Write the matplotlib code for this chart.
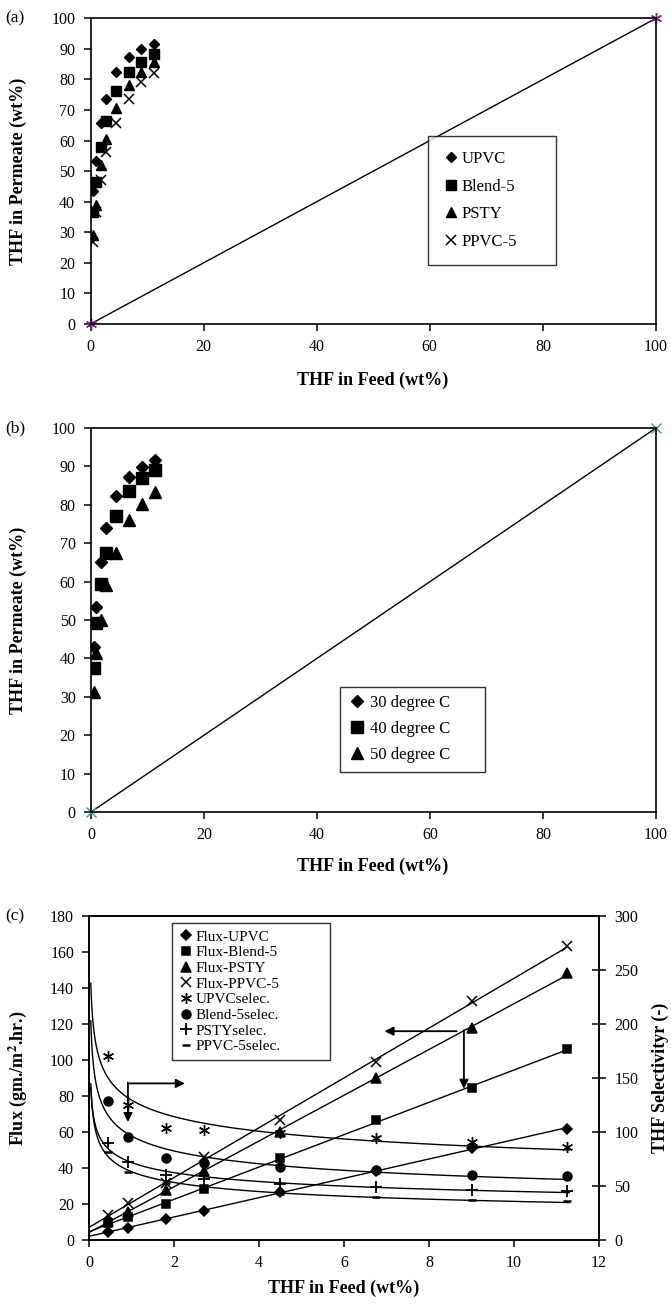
import numpy as np
import matplotlib
matplotlib.use("Agg")
import matplotlib.pyplot as plt

plt.rcParams['font.family'] = ['Liberation Serif', 'DejaVu Serif']
plt.rcParams['mathtext.fontset'] = 'stix'

# ---------------- data ----------------
feed = [0.45, 0.9, 1.8, 2.7, 4.5, 6.75, 9.0, 11.25]

# panel (a): permeate THF (wt%) vs feed
perm_upvc = [43.5, 53.3, 65.6, 73.7, 82.3, 87.4, 90.0, 91.6]
perm_blend5 = [36.7, 46.5, 58.0, 66.5, 76.2, 82.5, 85.7, 88.3]
perm_psty = [29.1, 39.0, 52.0, 60.4, 70.6, 78.2, 82.5, 85.6]
perm_ppvc5 = [26.8, 36.7, 47.1, 56.4, 65.6, 73.6, 79.0, 82.2]
diag = [0, 100]

# panel (b): temperatures
perm_30 = [43.0, 53.5, 65.2, 73.9, 82.3, 87.3, 89.9, 91.7]
perm_40 = [37.4, 49.1, 59.4, 67.5, 77.1, 83.6, 86.9, 89.1]
perm_50 = [31.3, 41.3, 50.0, 59.1, 67.4, 76.0, 80.1, 83.4]

# panel (c): flux and selectivity
flux_upvc = [4.3, 6.9, 11.5, 16.3, 26.9, 38.5, 51.0, 61.7]
flux_blend5 = [9.3, 13.0, 19.8, 28.3, 45.4, 66.7, 84.3, 105.9]
flux_psty = [10.5, 15.7, 27.8, 38.5, 60.0, 89.8, 117.6, 148.5]
flux_ppvc5 = [13.9, 20.4, 31.5, 45.9, 66.7, 99.0, 132.8, 163.3]
sel_upvc = [170.0, 125.0, 103.3, 101.7, 99.2, 94.2, 90.8, 85.8]
sel_blend5 = [128.3, 95.8, 76.2, 71.7, 67.5, 64.5, 60.0, 59.7]
sel_psty = [89.5, 72.5, 60.2, 56.2, 51.8, 49.3, 46.7, 45.7]
sel_ppvc5 = [81.7, 63.3, 52.5, 47.8, 42.5, 39.7, 37.5, 35.8]

W, H = 671, 1305
fig = plt.figure(figsize=(W / 100, H / 100), dpi=100)

def rect(l, r, t, b):
    return [l / W, 1 - b / H, (r - l) / W, (b - t) / H]

TICKFS = 11.5
LABFS = 13
LW = 1.0

def style_axes(ax):
    for s in ax.spines.values():
        s.set_linewidth(1.2)
        s.set_color('black')
    ax.tick_params(direction='out', length=5, width=1.1, labelsize=TICKFS, pad=6)

def ftext(x, y, s, **kw):
    fig.text(x / W, 1 - y / H, s, **kw)

def box_legend(ax, handles, l, r, t, b, ax_px, **kw):
    al, ar, at, ab = ax_px
    x0 = (l - al) / (ar - al)
    w = (r - l) / (ar - al)
    y1 = 1 - (t - at) / (ab - at)
    h = (b - t) / (ab - at)
    leg = ax.legend(handles=handles, loc='upper left', bbox_to_anchor=(x0, y1 - h, w, h),
                    mode='expand', frameon=True, fancybox=False, edgecolor='black',
                    borderaxespad=0, **kw)
    leg.get_frame().set_linewidth(1.0)
    return leg

# ---------------- panel (a) ----------------
pa = (90.5, 656, 18.3, 324)
axa = fig.add_axes(rect(*pa))
style_axes(axa)
axa.plot(diag, diag, color='black', lw=LW, marker=(6, 2, 0), ms=8,
         mec='#8B1A8B', mfc='none', mew=1.0, zorder=2, clip_on=False)
ha = []
ha.append(axa.plot(feed, perm_upvc, ls='none', marker='D', ms=5.5, color='black', label='UPVC')[0])
ha.append(axa.plot(feed, perm_blend5, ls='none', marker='s', ms=6.5, color='black', label='Blend-5')[0])
ha.append(axa.plot(feed, perm_psty, ls='none', marker='^', ms=7, color='black', label='PSTY')[0])
ha.append(axa.plot(feed, perm_ppvc5, ls='none', marker='x', ms=7, mew=1.1, color='black', label='PPVC-5')[0])
axa.set_xlim(0, 100)
axa.set_ylim(0, 100)
axa.set_xticks(np.arange(0, 101, 20))
axa.set_yticks(np.arange(0, 101, 10))
box_legend(axa, ha, 428, 556, 136, 261, pa, fontsize=12, handletextpad=0.2,
           handlelength=0.9, labelspacing=0.69, borderpad=0.9, borderaxespad=0) if False else \
    box_legend(axa, ha, 428, 556, 136, 261, pa, fontsize=12, handletextpad=0.2,
               handlelength=0.9, labelspacing=0.69, borderpad=0.9)

ftext(5, 18, '(a)', fontsize=12.5, va='center', ha='left')
ftext(373, 380, 'THF in Feed (wt%)', fontsize=LABFS, fontweight='bold', ha='center', va='center')
ftext(18, 171, 'THF in Permeate (wt%)', fontsize=LABFS, fontweight='bold', ha='center',
      va='center', rotation=90)

# ---------------- panel (b) ----------------
pb = (91, 656, 428, 812)
axb = fig.add_axes(rect(*pb))
style_axes(axb)
axb.plot(diag, diag, color='black', lw=LW, marker='x', ms=7,
         mec='#2E9E9E', mew=1.0, zorder=2, clip_on=False)
hb = []
hb.append(axb.plot(feed, perm_30, ls='none', marker='D', ms=6.5, color='black', label='30 degree C')[0])
hb.append(axb.plot(feed, perm_40, ls='none', marker='s', ms=8, color='black', label='40 degree C')[0])
hb.append(axb.plot(feed, perm_50, ls='none', marker='^', ms=8.5, color='black', label='50 degree C')[0])
axb.set_xlim(0, 100)
axb.set_ylim(0, 100)
axb.set_xticks(np.arange(0, 101, 20))
axb.set_yticks(np.arange(0, 101, 10))
box_legend(axb, hb, 340, 485, 687, 775, pb, fontsize=12, handletextpad=0.3,
           handlelength=1.0, labelspacing=0.6, borderpad=0.5)

ftext(5, 428, '(b)', fontsize=12.5, va='center', ha='left')
ftext(373, 866, 'THF in Feed (wt%)', fontsize=LABFS, fontweight='bold', ha='center', va='center')
ftext(18, 620, 'THF in Permeate (wt%)', fontsize=LABFS, fontweight='bold', ha='center',
      va='center', rotation=90)

# ---------------- panel (c) ----------------
pc = (89.3, 599, 916, 1240)
axc = fig.add_axes(rect(*pc))
style_axes(axc)
axr = axc.twinx()
style_axes(axr)
axr.tick_params(axis='y', direction='inout', length=10)

fx = np.array(feed)
xl = np.linspace(0, fx.max(), 100)
xp = np.linspace(0.035, fx.max() + 0.05, 800)

flux_series = [
    (flux_upvc, 'D', 5, 'Flux-UPVC'),
    (flux_blend5, 's', 6, 'Flux-Blend-5'),
    (flux_psty, '^', 6.5, 'Flux-PSTY'),
    (flux_ppvc5, 'x', 7, 'Flux-PPVC-5'),
]
handles = []
for ys, m, s, lab in flux_series:
    k, b0 = np.polyfit(fx, ys, 1)
    axc.plot(xl, k * xl + b0, color='black', lw=LW)
    h, = axc.plot(fx, ys, ls='none', marker=m, ms=s, color='black', mew=1.1, label=lab)
    handles.append(h)

sel_series = [
    (sel_upvc, (6, 2, 0), 8, 1.0, 'UPVCselec.'),
    (sel_blend5, 'o', 6.5, 1.0, 'Blend-5selec.'),
    (sel_psty, '+', 8, 1.3, 'PSTYselec.'),
    (sel_ppvc5, '_', 6, 1.8, 'PPVC-5selec.'),
]
for ys, m, s, mw, lab in sel_series:
    bb, la = np.polyfit(np.log(fx), np.log(ys), 1)
    axr.plot(xp, np.exp(la) * xp ** bb, color='black', lw=LW)
    h, = axr.plot(fx, ys, ls='none', marker=m, ms=s, color='black', mew=mw, label=lab)
    handles.append(h)

axc.set_xlim(0, 12)
axc.set_ylim(0, 180)
axr.set_ylim(0, 300)
axc.set_xticks(np.arange(0, 13, 2))
axc.set_yticks(np.arange(0, 181, 20))
axr.set_yticks(np.arange(0, 301, 50))

# arrows
ap = dict(arrowstyle='-|>', color='black', lw=1.3, mutation_scale=13, shrinkA=0, shrinkB=0)
axc.annotate('', xy=(2.25, 87), xytext=(0.91, 87), arrowprops=ap)
axc.annotate('', xy=(0.91, 65.5), xytext=(0.91, 87.5), arrowprops=ap)
axc.annotate('', xy=(6.95, 116), xytext=(8.65, 116), arrowprops=ap)
axc.annotate('', xy=(8.82, 84), xytext=(8.82, 116.5), arrowprops=ap)

box_legend(axr, handles, 172, 330, 923, 1061, pc, fontsize=11, handletextpad=0.2,
           handlelength=0.9, labelspacing=0.13, borderpad=0.45)

ftext(5, 916, '(c)', fontsize=12.5, va='center', ha='left')
ftext(344, 1288, 'THF in Feed (wt%)', fontsize=LABFS, fontweight='bold', ha='center', va='center')
ftext(18, 1078, 'Flux (gm./m$^\\mathbf{2}$.hr.)', fontsize=LABFS, fontweight='bold', ha='center',
      va='center', rotation=90)
ftext(660, 1078, 'THF Selectivityr (-)', fontsize=LABFS, fontweight='bold', ha='center',
      va='center', rotation=90)

fig.savefig('out.png', dpi=100)
